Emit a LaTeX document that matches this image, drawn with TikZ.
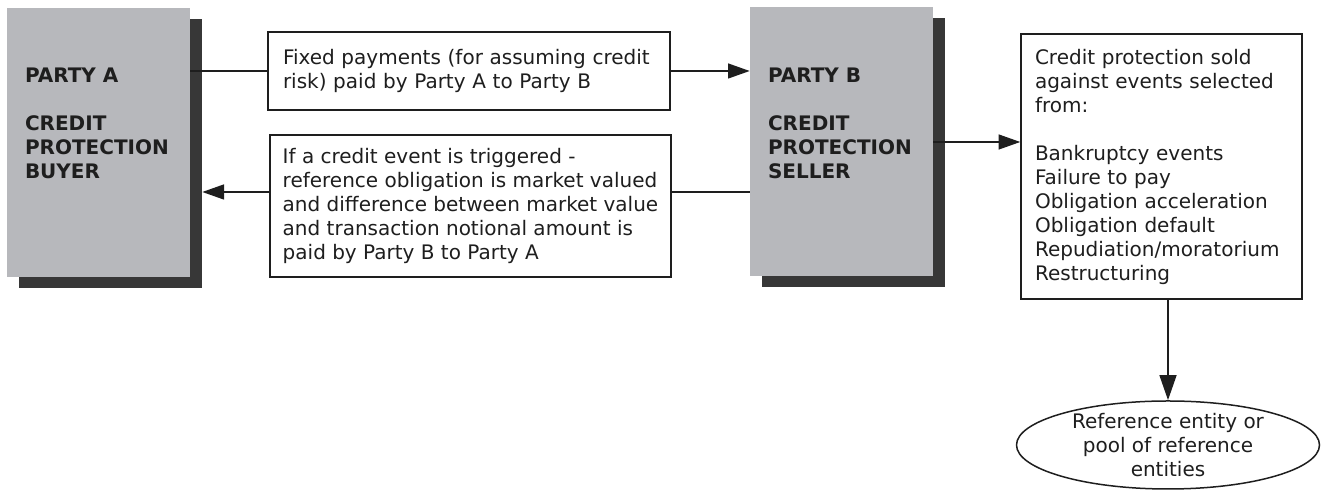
\documentclass[tikz,border=0pt]{standalone}
\usepackage{fontspec}
\setmainfont{DejaVu Sans}
\usetikzlibrary{shapes.geometric,shadows,arrows.meta}

\begin{document}
\begin{tikzpicture}[x=0.6pt,y=0.6pt,
  party/.style={fill=fillColor,minimum width=109.8pt,minimum height=161.4pt,inner sep=0pt,
    general shadow={fill=shadowColor,shadow xshift=7.2pt,shadow yshift=-6.6pt}},
  partytext/.style={anchor=north west,inner sep=0pt,align=left,text=drawColor,
    font=\fontsize{12}{14.4}\bfseries\selectfont},
  textbox/.style={draw=drawColor,line width=0.9pt,fill=white,align=left,text=drawColor,
    font=\fontsize{12}{14.4}\selectfont,inner ysep=4pt},
  link/.style={draw=drawColor,line width=0.8pt},
  tip/.style={-{Triangle[length=13pt,width=9pt]}}]
\definecolor{fillColor}{RGB}{183,184,188}
\definecolor{shadowColor}{RGB}{55,55,55}
\definecolor{drawColor}{RGB}{30,30,30}
\useasboundingbox (0,0) rectangle (1328,490);

\node[party] (partyA) at (98.5,347.5) {};
\node[partytext] (labelA) at ([shift={(18,-60)}]partyA.north west) {PARTY A\\[14.4pt]CREDIT\\PROTECTION\\BUYER};

\node[party] (partyB) at (841.5,348) {};
\node[partytext] (labelB) at ([shift={(18,-60)}]partyB.north west) {PARTY B\\[14.4pt]CREDIT\\PROTECTION\\SELLER};

\node[textbox,minimum width=241.2pt,minimum height=46.8pt,text width=223.2pt,inner xsep=9pt] (pay) at (469,419)
  {Fixed payments (for assuming credit\\risk) paid by Party A to Party B};

\node[textbox,minimum width=240.6pt,minimum height=85.2pt,inner xsep=2pt] (settle) at (470.5,284)
  {If a credit event is triggered -\\reference obligation is market valued\\and difference between market value\\and transaction notional amount is\\paid by Party B to Party A};

\node[textbox,minimum width=168.6pt,minimum height=159pt,text width=151.8pt,inner xsep=8.4pt] (events) at (1161.5,323.5)
  {Credit protection sold\\against events selected\\from:\\[14.4pt]Bankruptcy events\\Failure to pay\\Obligation acceleration\\Obligation default\\Repudiation/moratorium\\Restructuring};

\node[ellipse,draw=drawColor,line width=0.9pt,minimum width=181.8pt,minimum height=52.8pt,inner sep=0pt] (entity) at (1168,45) {};
\node[align=center,inner sep=0pt,text=drawColor,font=\fontsize{12}{14.4}\selectfont] (entityText) at (entity.center)
  {Reference entity or\\pool of reference\\entities};

\coordinate (lowline) at (0,298);

\path[link] (partyA.east |- pay.west) -- (pay.west);
\path[link,tip] (pay.east) -- (pay.east -| partyB.west);
\path[link] (partyB.west |- lowline) -- (settle.east |- lowline);
\path[link,tip] (settle.west |- lowline) -- ([xshift=7.2pt]partyA.east |- lowline);
\path[link,tip] (partyB.east) -- (partyB.east -| events.west);
\path[draw=drawColor,line width=1.4pt,-{Triangle[length=15pt,width=10pt]}] (entity.north |- events.south) -- (entity.north);
\end{tikzpicture}
\end{document}
